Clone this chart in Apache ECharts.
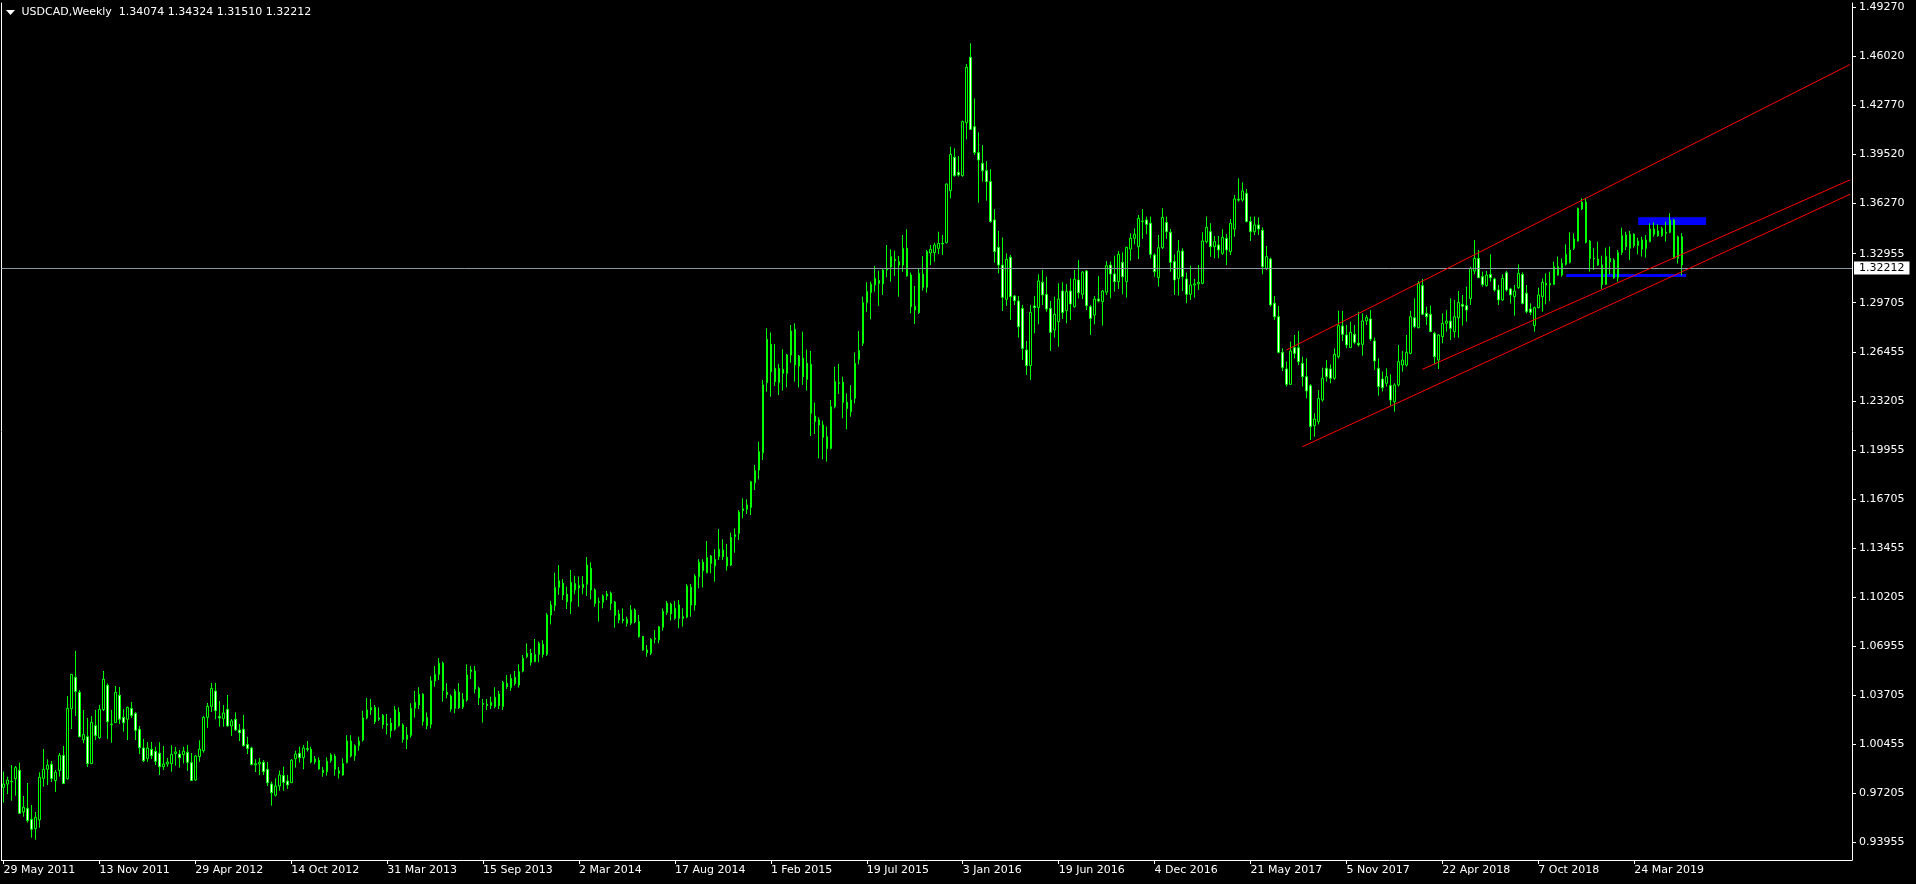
<!DOCTYPE html>
<html><head><meta charset="utf-8">
<script src="https://cdn.jsdelivr.net/npm/echarts@6/dist/echarts.min.js"></script>
<style>html,body{margin:0;padding:0;background:#000;}#c{width:1916px;height:884px;}</style>
</head><body><div id="c"></div>
<script>
const symbolTitle = 'USDCAD,Weekly';
const lastOHLC = ['1.34074', '1.34324', '1.31510', '1.32212'];
const dateTicks = ['29 May 2011','13 Nov 2011','29 Apr 2012','14 Oct 2012','31 Mar 2013','15 Sep 2013','2 Mar 2014','17 Aug 2014','1 Feb 2015','19 Jul 2015','3 Jan 2016','19 Jun 2016','4 Dec 2016','21 May 2017','5 Nov 2017','22 Apr 2018','7 Oct 2018','24 Mar 2019'];
const priceTicks = [1.49270,1.46020,1.42770,1.39520,1.36270,1.32955,1.29705,1.26455,1.23205,1.19955,1.16705,1.13455,1.10205,1.06955,1.03705,1.00455,0.97205,0.93955];
const currentPrice = 1.32212;

const opens = [
0.9760,0.9782,0.9800,0.9818,0.9873,0.9597,0.9621,0.9548,0.9487,0.9545,
0.9820,0.9880,0.9913,0.9805,0.9871,0.9972,0.9818,1.0282,1.0489,1.0390,
1.0075,1.0096,0.9917,1.0169,1.0090,1.0276,1.0436,1.0180,1.0189,1.0370,
1.0224,1.0211,1.0283,1.0250,1.0144,1.0021,0.9952,1.0012,0.9999,0.9986,
0.9897,0.9915,0.9917,0.9983,0.9981,0.9977,0.9992,0.9924,0.9809,0.9964,
1.0003,1.0224,1.0297,1.0398,1.0230,1.0215,1.0277,1.0167,1.0211,1.0140,
1.0145,1.0045,1.0021,0.9909,0.9915,0.9926,0.9880,0.9782,0.9708,0.9769,
0.9838,0.9802,0.9791,0.9950,0.9986,0.9957,1.0017,1.0012,0.9928,0.9939,
0.9873,0.9864,0.9937,0.9966,0.9869,0.9842,0.9924,1.0067,0.9970,1.0036,
1.0074,1.0220,1.0273,1.0290,1.0211,1.0237,1.0180,1.0185,1.0145,1.0257,
1.0173,1.0078,1.0105,1.0284,1.0306,1.0377,1.0222,1.0178,1.0465,1.0509,
1.0582,1.0390,1.0365,1.0284,1.0390,1.0293,1.0339,1.0527,1.0531,1.0416,
1.0315,1.0310,1.0302,1.0295,1.0377,1.0295,1.0449,1.0421,1.0489,1.0438,
1.0531,1.0626,1.0648,1.0593,1.0641,1.0707,1.0641,1.0902,1.0964,1.1085,
1.1112,1.1039,1.0990,1.1109,1.1096,1.1083,1.1105,1.1211,1.1068,1.0990,
1.0986,1.1028,1.1046,1.0988,1.0909,1.0873,1.0873,1.0847,1.0935,1.0858,
1.0759,1.0670,1.0648,1.0741,1.0737,1.0820,1.0918,1.0973,1.0880,1.0968,
1.0891,1.0887,1.1085,1.0968,1.1156,1.1251,1.1182,1.1293,1.1227,1.1289,
1.1333,1.1284,1.1233,1.1421,1.1443,1.1593,1.1602,1.1615,1.1778,1.1862,
1.1977,1.2441,1.2695,1.2536,1.2441,1.2529,1.2503,1.2624,1.2794,1.2551,
1.2603,1.2569,1.2562,1.2220,1.2194,1.2161,1.2083,1.2006,1.2282,1.2440,
1.2443,1.2311,1.2249,1.2337,1.2596,1.2702,1.2971,1.3037,1.3088,1.3117,
1.3095,1.3187,1.3207,1.3258,1.3242,1.3220,1.3331,1.3154,1.2945,1.2905,
1.3159,1.3073,1.3300,1.3302,1.3331,1.3364,1.3368,1.3713,1.3934,1.3834,
1.3812,1.4163,1.4596,1.4137,1.3965,1.3894,1.3845,1.3773,1.3519,1.3337,
1.3220,1.2993,1.3271,1.3015,1.2982,1.2933,1.2657,1.2554,1.2949,1.2938,
1.3106,1.3026,1.2933,1.2790,1.2845,1.3048,1.2918,1.3048,1.2944,1.3121,
1.3026,1.3181,1.2944,1.2889,1.2995,1.2978,1.3040,1.3220,1.3161,1.3110,
1.3238,1.3110,1.3326,1.3397,1.3342,1.3508,1.3519,1.3497,1.3287,1.3137,
1.3335,1.3503,1.3437,1.3243,1.3132,1.3313,1.3128,1.3026,1.3088,1.3095,
1.3099,1.3375,1.3441,1.3342,1.3353,1.3298,1.3397,1.3309,1.3459,1.3656,
1.3651,1.3695,1.3508,1.3441,1.3486,1.3450,1.3198,1.3260,1.2967,1.2878,
1.2642,1.2532,1.2430,1.2673,1.2673,1.2569,1.2481,1.2421,1.2156,1.2183,
1.2326,1.2536,1.2532,1.2470,1.2613,1.2816,1.2757,1.2673,1.2761,1.2702,
1.2695,1.2850,1.2863,1.2717,1.2536,1.2465,1.2437,1.2423,1.2315,1.2426,
1.2558,1.2558,1.2635,1.2871,1.2805,1.3084,1.2900,1.2894,1.2768,1.2591,
1.2746,1.2834,1.2849,1.2779,1.2871,1.2960,1.2951,1.2999,1.3180,1.3264,
1.3143,1.3084,1.3158,1.3128,1.3055,1.2989,1.3169,1.3062,1.3011,1.3070,
1.3158,1.3033,1.2929,1.2819,1.2938,1.3011,1.3099,1.3088,1.3092,1.3209,
1.3154,1.3225,1.3238,1.3331,1.3379,1.3592,1.3636,1.3379,1.3264,1.3260,
1.3220,1.3092,1.3264,1.3253,1.3136,1.3304,1.3419,1.3331,1.3424,1.3349,
1.3386,1.3331,1.3375,1.3459,1.3446,1.3415,1.3437,1.3437,1.3518,1.3265,
1.34074];

const highs = [
0.9865,0.9831,0.9908,0.9902,0.9924,0.9703,0.9789,0.9643,0.9597,0.9860,
1.0014,0.9946,0.9935,0.9875,0.9988,1.0034,1.0365,1.0509,1.0664,1.0405,
1.0273,1.0220,1.0233,1.0273,1.0306,1.0531,1.0449,1.0273,1.0432,1.0425,
1.0279,1.0295,1.0326,1.0259,1.0167,1.0081,1.0059,1.0061,1.0028,1.0059,
1.0034,0.9955,1.0039,1.0028,1.0008,1.0030,1.0041,0.9988,0.9975,1.0072,
1.0233,1.0319,1.0452,1.0452,1.0332,1.0306,1.0372,1.0213,1.0257,1.0180,
1.0240,1.0094,1.0030,0.9946,0.9955,0.9941,0.9928,0.9798,0.9820,0.9871,
0.9897,0.9842,0.9946,1.0003,1.0030,1.0041,1.0067,1.0030,0.9968,0.9959,
0.9895,0.9959,0.9986,0.9981,0.9895,0.9953,1.0105,1.0105,1.0045,1.0096,
1.0268,1.0352,1.0345,1.0306,1.0290,1.0246,1.0246,1.0220,1.0299,1.0290,
1.0185,1.0160,1.0317,1.0399,1.0423,1.0384,1.0257,1.0496,1.0564,1.0617,
1.0593,1.0450,1.0376,1.0412,1.0450,1.0384,1.0575,1.0564,1.0564,1.0427,
1.0346,1.0346,1.0361,1.0423,1.0399,1.0465,1.0505,1.0509,1.0531,1.0575,
1.0637,1.0714,1.0677,1.0743,1.0725,1.0735,1.0915,1.0995,1.1182,1.1233,
1.1140,1.1090,1.1200,1.1162,1.1156,1.1160,1.1286,1.1251,1.1079,1.1017,
1.1039,1.1061,1.1057,1.0995,1.0935,1.0946,1.0891,1.0968,1.0946,1.0902,
1.0763,1.0703,1.0748,1.0803,1.0829,1.0946,1.0995,1.0984,1.0995,1.1001,
1.0946,1.1107,1.1107,1.1173,1.1271,1.1271,1.1392,1.1299,1.1337,1.1472,
1.1403,1.1372,1.1447,1.1476,1.1597,1.1675,1.1668,1.1790,1.1896,1.2050,
1.2459,1.2801,1.2774,1.2697,1.2565,1.2662,1.2631,1.2823,1.2834,1.2624,
1.2779,1.2661,1.2651,1.2309,1.2211,1.2189,1.2150,1.2326,1.2547,1.2565,
1.2481,1.2370,1.2425,1.2640,1.2783,1.3011,1.3106,1.3110,1.3214,1.3183,
1.3192,1.3353,1.3324,1.3315,1.3280,1.3419,1.3457,1.3170,1.3082,1.3198,
1.3280,1.3320,1.3353,1.3368,1.3441,1.3419,1.3760,1.4004,1.3993,1.3942,
1.4177,1.4552,1.4689,1.4324,1.4099,1.4015,1.3909,1.3854,1.3591,1.3446,
1.3403,1.3298,1.3287,1.3020,1.3015,1.2956,1.2717,1.2956,1.3015,1.3159,
1.3187,1.3143,1.2982,1.3011,1.3099,1.3106,1.3095,1.3132,1.3187,1.3254,
1.3181,1.3187,1.2956,1.3015,1.3148,1.3055,1.3247,1.3243,1.3282,1.3313,
1.3304,1.3342,1.3430,1.3463,1.3552,1.3591,1.3541,1.3541,1.3298,1.3419,
1.3596,1.3541,1.3459,1.3291,1.3386,1.3331,1.3170,1.3216,1.3128,1.3220,
1.3437,1.3541,1.3497,1.3413,1.3413,1.3457,1.3426,1.3525,1.3684,1.3795,
1.3768,1.3724,1.3541,1.3541,1.3536,1.3470,1.3346,1.3269,1.3015,1.2949,
1.2668,1.2580,1.2713,1.2757,1.2783,1.2613,1.2602,1.2432,1.2238,1.2393,
1.2540,1.2591,1.2562,1.2668,1.2918,1.2916,1.2823,1.2845,1.2823,1.2911,
1.2900,1.2889,1.2922,1.2739,1.2602,1.2514,1.2536,1.2496,1.2437,1.2691,
1.2651,1.2757,1.2916,1.3000,1.3115,1.3128,1.2944,1.2951,1.2779,1.2761,
1.2900,1.2922,1.3000,1.2989,1.3048,1.3022,1.3077,1.3209,1.3386,1.3320,
1.3176,1.3181,1.3291,1.3136,1.3088,1.3159,1.3181,1.3070,1.3088,1.3225,
1.3172,1.3088,1.2966,1.2944,1.3070,1.3132,1.3165,1.3176,1.3242,1.3276,
1.3264,1.3357,1.3437,1.3430,1.3600,1.3662,1.3666,1.3386,1.3331,1.3375,
1.3282,1.3335,1.3342,1.3264,1.3320,1.3468,1.3441,1.3446,1.3430,1.3401,
1.3408,1.3419,1.3496,1.3503,1.3490,1.3474,1.3507,1.3563,1.3525,1.3415,
1.34324];

const lows = [
0.9659,0.9716,0.9672,0.9705,0.9584,0.9566,0.9527,0.9427,0.9414,0.9493,
0.9765,0.9776,0.9796,0.9730,0.9831,0.9783,0.9811,1.0147,1.0233,1.0092,
1.0052,0.9895,0.9917,1.0074,1.0081,1.0266,1.0081,1.0056,1.0189,1.0180,
1.0129,1.0074,1.0220,1.0074,0.9981,0.9928,0.9930,0.9948,0.9908,0.9842,
0.9875,0.9897,0.9864,0.9904,0.9891,0.9919,0.9869,0.9805,0.9805,0.9930,
0.9990,1.0154,1.0260,1.0211,1.0162,1.0162,1.0162,1.0101,1.0136,1.0067,
1.0030,0.9981,0.9906,0.9862,0.9842,0.9842,0.9769,0.9639,0.9699,0.9738,
0.9738,0.9749,0.9791,0.9891,0.9924,0.9880,0.9997,0.9919,0.9913,0.9877,
0.9831,0.9838,0.9924,0.9838,0.9818,0.9838,0.9919,0.9959,0.9937,1.0003,
1.0063,1.0211,1.0240,1.0180,1.0200,1.0149,1.0111,1.0089,1.0136,1.0162,
1.0056,1.0014,1.0090,1.0222,1.0279,1.0169,1.0145,1.0151,1.0427,1.0471,
1.0328,1.0350,1.0262,1.0251,1.0279,1.0279,1.0328,1.0478,1.0383,1.0306,
1.0189,1.0273,1.0279,1.0284,1.0279,1.0273,1.0412,1.0399,1.0434,1.0421,
1.0522,1.0615,1.0567,1.0589,1.0589,1.0620,1.0630,1.0840,1.0929,1.1035,
1.1001,1.0942,1.0909,1.1039,1.0957,1.1039,1.1028,1.1006,1.0957,1.0858,
1.0946,1.1001,1.0935,1.0818,1.0847,1.0847,1.0825,1.0836,1.0847,1.0752,
1.0666,1.0626,1.0637,1.0714,1.0714,1.0798,1.0902,1.0865,1.0870,1.0814,
1.0825,1.0880,1.0891,1.0931,1.1079,1.1085,1.1178,1.1178,1.1123,1.1266,
1.1266,1.1196,1.1227,1.1315,1.1399,1.1542,1.1571,1.1564,1.1730,1.1801,
1.1929,1.2381,1.2348,1.2419,1.2359,1.2388,1.2410,1.2573,1.2448,1.2410,
1.2426,1.2389,1.2088,1.2101,1.1940,1.1933,1.1918,1.1999,1.2271,1.2366,
1.2205,1.2132,1.2216,1.2304,1.2562,1.2684,1.2911,1.2861,1.3044,1.2949,
1.3022,1.3139,1.3110,1.3148,1.3011,1.3176,1.3143,1.2900,1.2830,1.2896,
1.3051,1.3037,1.3220,1.3242,1.3293,1.3287,1.3364,1.3662,1.3806,1.3806,
1.3806,1.4053,1.4115,1.3949,1.3633,1.3773,1.3647,1.3501,1.3236,1.3165,
1.2916,1.2950,1.2856,1.2956,1.2739,1.2591,1.2492,1.2459,1.2768,1.2827,
1.2956,1.2911,1.2651,1.2739,1.2679,1.2863,1.2834,1.2856,1.2938,1.2999,
1.2995,1.2922,1.2757,1.2827,1.2973,1.2819,1.3022,1.3000,1.3044,1.3062,
1.3026,1.3004,1.3249,1.3357,1.3260,1.3393,1.3424,1.3265,1.3143,1.3077,
1.3326,1.3393,1.3176,1.3022,1.3018,1.3048,1.2967,1.2989,1.3004,1.3055,
1.3093,1.3364,1.3276,1.3265,1.3265,1.3287,1.3220,1.3287,1.3408,1.3640,
1.3640,1.3503,1.3380,1.3419,1.3419,1.3159,1.3187,1.2945,1.2856,1.2635,
1.2518,1.2415,1.2426,1.2602,1.2558,1.2415,1.2337,1.2061,1.2083,1.2165,
1.2315,1.2448,1.2437,1.2459,1.2602,1.2717,1.2669,1.2673,1.2695,1.2680,
1.2620,1.2823,1.2717,1.2525,1.2355,1.2382,1.2415,1.2289,1.2249,1.2415,
1.2514,1.2547,1.2629,1.2801,1.2801,1.2889,1.2823,1.2775,1.2562,1.2532,
1.2702,1.2779,1.2724,1.2739,1.2739,1.2819,1.2845,1.2956,1.3159,1.3136,
1.3077,1.3077,1.3110,1.3044,1.2955,1.2982,1.3044,1.2966,1.2885,1.3062,
1.2960,1.2900,1.2889,1.2779,1.2933,1.2911,1.2960,1.2982,1.3088,1.3150,
1.3143,1.3216,1.3231,1.3320,1.3375,1.3585,1.3364,1.3176,1.3187,1.3216,
1.3062,1.3088,1.3158,1.3128,1.3110,1.3287,1.3320,1.3253,1.3335,1.3291,
1.3276,1.3269,1.3371,1.3408,1.3408,1.3408,1.3375,1.3430,1.3264,1.3230,
1.31510];

const closes = [
0.9782,0.9809,0.9798,0.9891,0.9588,0.9628,0.9540,0.9482,0.9562,0.9827,
0.9880,0.9908,0.9818,0.9860,0.9972,0.9785,1.0284,1.0509,1.0396,1.0096,
1.0110,0.9917,1.0191,1.0103,1.0277,1.0476,1.0195,1.0176,1.0390,1.0211,
1.0189,1.0290,1.0237,1.0138,1.0023,0.9937,1.0021,0.9970,0.9933,0.9897,
0.9915,0.9928,0.9979,0.9995,0.9957,1.0000,0.9926,0.9805,0.9968,1.0014,
1.0224,1.0297,1.0416,1.0268,1.0220,1.0253,1.0167,1.0200,1.0140,1.0122,
1.0036,1.0017,0.9911,0.9917,0.9926,0.9864,0.9791,0.9725,0.9769,0.9842,
0.9793,0.9776,0.9941,0.9981,0.9957,1.0021,1.0012,0.9928,0.9948,0.9882,
0.9859,0.9933,0.9975,0.9880,0.9853,0.9919,1.0067,0.9968,1.0036,1.0067,
1.0220,1.0273,1.0290,1.0195,1.0220,1.0176,1.0173,1.0136,1.0273,1.0169,
1.0078,1.0107,1.0284,1.0323,1.0377,1.0196,1.0169,1.0465,1.0509,1.0582,
1.0401,1.0376,1.0279,1.0398,1.0288,1.0343,1.0505,1.0538,1.0412,1.0354,
1.0310,1.0302,1.0323,1.0357,1.0302,1.0456,1.0427,1.0482,1.0449,1.0527,
1.0615,1.0648,1.0589,1.0641,1.0714,1.0641,1.0902,1.0968,1.1085,1.1129,
1.1035,1.0990,1.1118,1.1068,1.1083,1.1105,1.1233,1.1068,1.0979,1.0986,
1.1028,1.1041,1.0979,1.0900,1.0869,1.0865,1.0847,1.0935,1.0858,1.0759,
1.0670,1.0653,1.0741,1.0748,1.0825,1.0926,1.0980,1.0910,1.0946,1.0880,
1.0880,1.1094,1.0968,1.1160,1.1251,1.1196,1.1284,1.1244,1.1271,1.1337,
1.1289,1.1227,1.1416,1.1434,1.1584,1.1606,1.1631,1.1785,1.1858,1.1984,
1.2426,1.2728,1.2514,1.2448,1.2536,1.2503,1.2624,1.2783,1.2558,1.2617,
1.2481,1.2463,1.2238,1.2183,1.2161,1.2079,1.2006,1.2282,1.2448,1.2437,
1.2311,1.2271,1.2326,1.2569,1.2653,1.2971,1.3044,1.3093,1.3132,1.3099,
1.3187,1.3198,1.3276,1.3249,1.3220,1.3331,1.3148,1.2945,1.2922,1.3165,
1.3073,1.3309,1.3324,1.3353,1.3364,1.3360,1.3757,1.3953,1.3812,1.3817,
1.4170,1.4530,1.4119,1.3965,1.3916,1.3845,1.3773,1.3508,1.3309,1.3220,
1.3006,1.3258,1.3010,1.2984,1.2812,1.2668,1.2554,1.2907,1.2938,1.3115,
1.3022,1.2929,1.2774,1.2894,1.2995,1.2905,1.3044,1.2962,1.3126,1.3037,
1.3174,1.2951,1.2867,1.2995,1.2982,1.3048,1.3216,1.3161,1.3110,1.3291,
1.3143,1.3337,1.3397,1.3424,1.3530,1.3512,1.3490,1.3291,1.3176,1.3335,
1.3536,1.3441,1.3238,1.3121,1.3313,1.3143,1.3026,1.3088,1.3095,1.3106,
1.3380,1.3470,1.3342,1.3375,1.3320,1.3404,1.3320,1.3497,1.3658,1.3650,
1.3711,1.3508,1.3441,1.3486,1.3459,1.3209,1.3276,1.2956,1.2878,1.2642,
1.2540,1.2430,1.2651,1.2635,1.2580,1.2481,1.2386,1.2150,1.2200,1.2337,
1.2470,1.2481,1.2470,1.2629,1.2819,1.2761,1.2691,1.2775,1.2708,1.2691,
1.2850,1.2872,1.2730,1.2585,1.2415,1.2408,1.2481,1.2326,1.2426,1.2580,
1.2591,1.2642,1.2878,1.2812,1.3099,1.2894,1.2878,1.2779,1.2613,1.2757,
1.2834,1.2849,1.2801,1.2878,1.2973,1.2947,1.2922,1.3198,1.3264,1.3136,
1.3092,1.3154,1.3136,1.3055,1.2989,1.3132,1.3055,1.3022,1.3048,1.3165,
1.2966,1.2911,1.2907,1.2938,1.3022,1.3106,1.3088,1.3099,1.3209,1.3154,
1.3231,1.3291,1.3320,1.3393,1.3596,1.3636,1.3371,1.3264,1.3260,1.3220,
1.3092,1.3276,1.3242,1.3136,1.3304,1.3415,1.3342,1.3424,1.3349,1.3379,
1.3326,1.3386,1.3459,1.3424,1.3415,1.3463,1.3430,1.3518,1.3265,1.3407,
1.32212];

// trend lines: [startBar, startPrice, endBar, endPrice]
const channelLines = [
  [321, 1.26574, 462, 1.45486],
  [325, 1.20168, 462, 1.36889],
  [355, 1.25295, 462, 1.37843]
];
// rectangles: [fromBar, topPrice, toBar, bottomPrice]
const zones = [
  [409, 1.35364, 426, 1.34854],
  [391, 1.31608, 421, 1.31409]
];

const totalSlots = 463;
const weekMs = 7 * 86400000;
const firstWeek = Date.UTC(2011, 4, 29);
const categories = [];
for (let i = 0; i < totalSlots; i++) {
  categories.push(new Date(firstWeek + i * weekMs).toISOString().slice(0, 10));
}
const candles = opens.map((o, i) => [o, closes[i], lows[i], highs[i]]);

const FONT = 'DejaVu Sans';
const tickEvery = 24;
const showTick = (idx) => idx % tickEvery === 0 && idx / tickEvery < dateTicks.length;

const chart = echarts.init(document.getElementById('c'), null, {renderer: 'canvas'});
chart.setOption({
  animation: false,
  backgroundColor: '#000000',
  grid: {left: 1.5, right: 64, top: 3, bottom: 24, outerBoundsMode: 'none', containLabel: false},
  graphic: [
    {type: 'polygon', shape: {points: [[6, 10], [15, 10], [10.5, 15]]}, style: {fill: '#ffffff'}},
    {type: 'text', style: {x: 21.5, y: 12.5, verticalAlign: 'middle', text: symbolTitle + '  ' + lastOHLC.join(' '), fill: '#ffffff', font: '11px "' + FONT + '"'}}
  ],
  xAxis: {
    type: 'category',
    data: categories,
    boundaryGap: true,
    axisLine: {show: true, lineStyle: {color: '#ffffff', width: 1}},
    axisTick: {show: true, alignWithLabel: true, interval: showTick, length: 4, lineStyle: {color: '#ffffff'}},
    axisLabel: {
      show: true, interval: showTick, align: 'left', margin: 5,
      color: '#ffffff', fontFamily: FONT, fontSize: 11,
      formatter: (v, idx) => dateTicks[idx / tickEvery]
    },
    splitLine: {show: false}
  },
  yAxis: [{
    type: 'value', position: 'right', min: 0.9279, max: 1.4956,
    axisLine: {show: true, lineStyle: {color: '#ffffff', width: 1}},
    axisTick: {show: true, length: 4, customValues: priceTicks, lineStyle: {color: '#ffffff'}},
    axisLabel: {show: true, customValues: priceTicks, margin: 7, color: '#ffffff', fontFamily: FONT, fontSize: 11,
      formatter: (v) => v.toFixed(5)},
    splitLine: {show: false}
  }, {
    type: 'value', position: 'left', min: 0.9279, max: 1.4956,
    axisLine: {show: true, lineStyle: {color: '#ffffff', width: 1}},
    axisTick: {show: false}, axisLabel: {show: false}, splitLine: {show: false}
  }],
  series: [{
    type: 'candlestick',
    yAxisIndex: 0,
    data: candles,
    barWidth: 2,
    z: 2,
    itemStyle: {
      color: '#000000', color0: '#ffffff',
      borderColor: '#00ff00', borderColor0: '#00ff00', borderColorDoji: '#00ff00',
      borderWidth: 1
    },
    emphasis: {disabled: true},
    markArea: {
      silent: true,
      z: 1,
      itemStyle: {color: '#0000ff', opacity: 1},
      data: zones.map(z => [{coord: [categories[z[0]], z[1]]}, {coord: [categories[z[2]], z[3]]}])
    },
    markLine: {
      silent: true,
      symbol: ['none', 'none'],
      animation: false,
      label: {show: false},
      emphasis: {disabled: true},
      lineStyle: {color: '#ff0000', width: 1, type: 'solid', opacity: 1},
      data: [
        {yAxis: currentPrice,
          lineStyle: {color: '#8c96a0', type: 'solid', width: 1},
          label: {show: true, position: 'end', distance: 2, formatter: currentPrice.toFixed(5),
            backgroundColor: '#ffffff', color: '#000000', padding: [1, 5, 1, 5],
            fontFamily: FONT, fontSize: 11, lineHeight: 11}}
      ].concat(channelLines.map(l => [
        {coord: [categories[l[0]], l[1]]},
        {coord: [categories[l[2]], l[3]]}
      ]))
    }
  }]
});
</script>
</body></html>
